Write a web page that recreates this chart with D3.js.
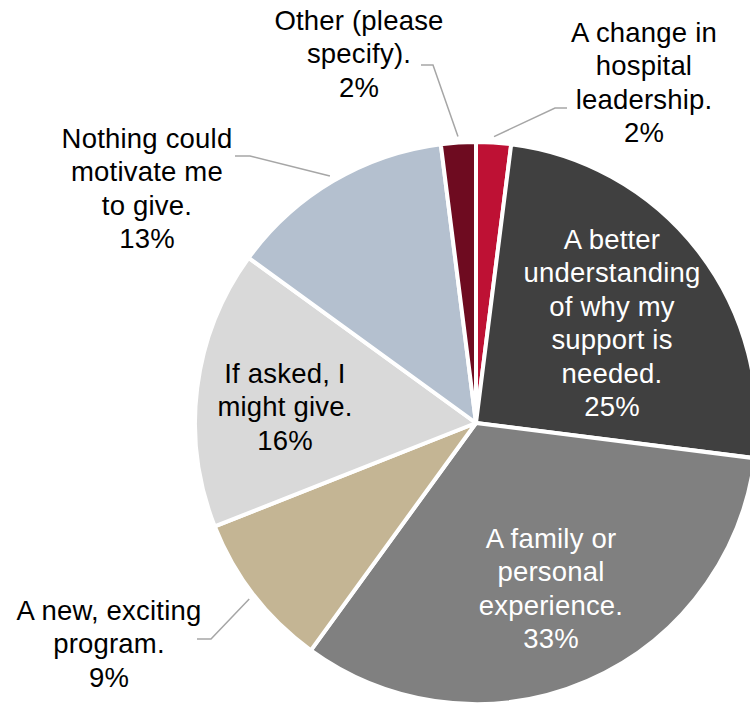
<!DOCTYPE html>
<html>
<head>
<meta charset="utf-8">
<script src="https://cdn.jsdelivr.net/npm/d3@7"></script>
<style>
  html, body { margin: 0; padding: 0; background: #fff; }
  svg { display: block; }
  text { font-family: "Liberation Sans", Arial, sans-serif; letter-spacing: 0.2px; }
</style>
</head>
<body>
<svg id="chart" width="750" height="708"></svg>
<script>
// Survey answers, clockwise from 12 o'clock
const categories = [
  "A change in hospital leadership.",
  "A better understanding of why my support is needed.",
  "A family or personal experience.",
  "A new, exciting program.",
  "If asked, I might give.",
  "Nothing could motivate me to give.",
  "Other (please specify)."
];
const values = [2, 25, 33, 9, 16, 13, 2];
const percentLabels = ["2%", "25%", "33%", "9%", "16%", "13%", "2%"];
// Wrapped label lines for each slice
const labelLines = [
  ["A change in", "hospital", "leadership."],
  ["A better", "understanding", "of why my", "support is", "needed."],
  ["A family or", "personal", "experience."],
  ["A new, exciting", "program."],
  ["If asked, I", "might give."],
  ["Nothing could", "motivate me", "to give."],
  ["Other (please", "specify)."]
];

const colors = ["#BE1134", "#404040", "#808080", "#C4B594", "#D9D9D9", "#B4C0CF", "#6E0B20"];

const svg = d3.select("#chart");
const cx = 476, cy = 423, radius = 281;
const fontSize = 27.5, lineH = 33.4;

const pie = d3.pie().sort(null).value(d => d)(values);
const arc = d3.arc().innerRadius(0).outerRadius(radius);
const color = d3.scaleOrdinal().domain(categories).range(colors);

const g = svg.append("g").attr("transform", `translate(${cx},${cy})`);

g.selectAll("path.slice")
  .data(pie)
  .join("path")
  .attr("class", "slice")
  .attr("d", arc)
  .attr("fill", (d, i) => color(categories[i]))
  .attr("stroke", "#fff")
  .attr("stroke-width", 4)
  .attr("stroke-linejoin", "round");

// Label placement: inside labels sit in the slice, outside labels get a leader line.
// x, y = centre x and baseline of the first line; elbow = where the leader line turns.
const placement = [
  { inside: false, x: 644, y: 42, elbow: [[567, 108], [555, 108]] },
  { inside: true,  x: 612, y: 249, fill: "#fff" },
  { inside: true,  x: 551, y: 548, fill: "#fff" },
  { inside: false, x: 109, y: 620, elbow: [[197, 639], [211, 639]] },
  { inside: true,  x: 285, y: 383, fill: "#000" },
  { inside: false, x: 147, y: 148, elbow: [[235, 156], [250, 156]] },
  { inside: false, x: 359, y: 30, elbow: [[421, 65], [433, 65]] }
];

const leaderArc = d3.arc().innerRadius(287).outerRadius(287);

pie.forEach((d, i) => {
  const p = placement[i];
  if (!p.inside) {
    const [ax, ay] = leaderArc.centroid(d);
    const pts = [p.elbow[0], p.elbow[1], [cx + ax, cy + ay]];
    svg.append("path")
      .attr("d", d3.line()(pts))
      .attr("fill", "none")
      .attr("stroke", "#A6A6A6")
      .attr("stroke-width", 1.5);
  }
  const lines = labelLines[i].concat([percentLabels[i]]);
  const t = svg.append("text")
    .attr("text-anchor", "middle")
    .attr("font-size", fontSize)
    .attr("fill", p.fill || "#000");
  lines.forEach((ln, k) => {
    t.append("tspan").attr("x", p.x).attr("y", p.y + k * lineH).text(ln);
  });
});
</script>
</body>
</html>
